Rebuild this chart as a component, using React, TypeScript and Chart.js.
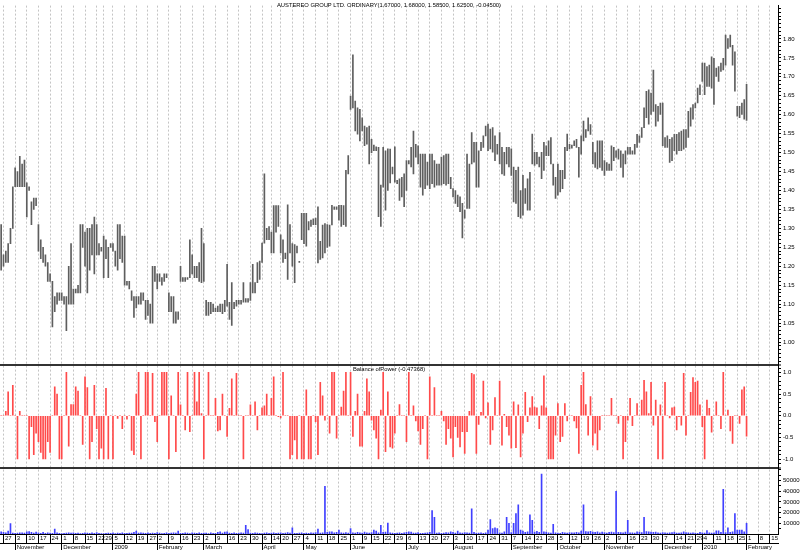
import React, { useEffect, useRef } from 'react';
import { Chart, registerables } from 'chart.js';

Chart.register(...registerables);

// ---- categories (trading days) ----
const START_DATE = '2008-10-24';
const HOLIDAYS = [
  '2008-12-25', '2008-12-26', '2009-01-01', '2009-01-26', '2009-04-10', '2009-04-13',
  '2009-06-08', '2009-12-25', '2009-12-28', '2010-01-01', '2010-01-26',
];
const SLOT_COUNT = 334;
const MONTH_NAMES = ['January', 'February', 'March', 'April', 'May', 'June', 'July', 'August', 'September', 'October', 'November', 'December'];

// ---- series values ----
const highs = [
  1.31, 1.23, 1.24, 1.26, 1.30, 1.41, 1.46, 1.45, 1.49, 1.47,
  1.48, 1.42, 1.41, 1.37, 1.38, 1.38, 1.31, 1.27, 1.25, 1.23,
  1.21, 1.18, 1.16, 1.12, 1.13, 1.13, 1.13, 1.12, 1.12, 1.20,
  1.26, 1.14, 1.14, 1.15, 1.31, 1.31, 1.29, 1.30, 1.30, 1.31,
  1.33, 1.31, 1.26, 1.25, 1.28, 1.27, 1.25, 1.26, 1.26, 1.24,
  1.31, 1.31, 1.28, 1.28, 1.16, 1.16, 1.135, 1.12, 1.12, 1.12,
  1.13, 1.13, 1.11, 1.11, 1.10, 1.20, 1.20, 1.18, 1.18, 1.17,
  1.18, 1.18, 1.13, 1.12, 1.12, 1.08, 1.08, 1.20, 1.17, 1.17,
  1.17, 1.27, 1.23, 1.20, 1.20, 1.21, 1.30, 1.26, 1.11, 1.105,
  1.105, 1.10, 1.09, 1.095, 1.10, 1.10, 1.11, 1.205, 1.105, 1.157,
  1.105, 1.11, 1.11, 1.11, 1.157, 1.115, 1.115, 1.157, 1.205, 1.157,
  1.21, 1.214, 1.261, 1.444, 1.30, 1.305, 1.29, 1.36, 1.36, 1.36,
  1.283, 1.27, 1.235, 1.362, 1.31, 1.26, 1.257, 1.253, 1.213, 1.34,
  1.34, 1.34, 1.318, 1.322, 1.325, 1.327, 1.357, 1.266, 1.309, 1.313,
  1.31, 1.309, 1.361, 1.357, 1.357, 1.361, 1.361, 1.36, 1.453, 1.492,
  1.649, 1.758, 1.636, 1.618, 1.614, 1.592, 1.57, 1.566, 1.57, 1.535,
  1.52, 1.515, 1.514, 1.414, 1.514, 1.505, 1.51, 1.509, 1.462, 1.515,
  1.427, 1.431, 1.435, 1.444, 1.479, 1.479, 1.514, 1.557, 1.522, 1.518,
  1.496, 1.496, 1.496, 1.475, 1.496, 1.496, 1.479, 1.47, 1.47, 1.488,
  1.492, 1.496, 1.496, 1.435, 1.405, 1.40, 1.388, 1.383, 1.366, 1.348,
  1.496, 1.47, 1.553, 1.527, 1.527, 1.505, 1.527, 1.544, 1.57, 1.575,
  1.562, 1.566, 1.544, 1.522, 1.553, 1.514, 1.501, 1.514, 1.514, 1.51,
  1.462, 1.453, 1.462, 1.40, 1.44, 1.405, 1.431, 1.448, 1.549, 1.501,
  1.501, 1.488, 1.501, 1.527, 1.518, 1.531, 1.54, 1.47, 1.435, 1.47,
  1.453, 1.453, 1.514, 1.549, 1.522, 1.52, 1.531, 1.535, 1.514, 1.544,
  1.583, 1.561, 1.592, 1.574, 1.527, 1.50, 1.531, 1.531, 1.531, 1.479,
  1.474, 1.47, 1.518, 1.514, 1.505, 1.509, 1.505, 1.496, 1.505, 1.514,
  1.514, 1.505, 1.522, 1.548, 1.544, 1.566, 1.618, 1.662, 1.666, 1.657,
  1.718, 1.627, 1.622, 1.631, 1.631, 1.54, 1.544, 1.535, 1.54, 1.548,
  1.548, 1.553, 1.557, 1.561, 1.561, 1.609, 1.618, 1.627, 1.631, 1.67,
  1.679, 1.736, 1.736, 1.727, 1.731, 1.753, 1.749, 1.723, 1.727, 1.736,
  1.749, 1.81, 1.801, 1.81, 1.783, 1.766, 1.622, 1.622, 1.631, 1.64,
  1.68,
];

const lows = [
  1.19, 1.20, 1.21, 1.21, 1.26, 1.30, 1.41, 1.41, 1.41, 1.41,
  1.41, 1.33, 1.40, 1.31, 1.35, 1.36, 1.24, 1.22, 1.21, 1.20,
  1.16, 1.16, 1.04, 1.08, 1.10, 1.11, 1.11, 1.10, 1.03, 1.10,
  1.10, 1.10, 1.13, 1.13, 1.13, 1.25, 1.20, 1.13, 1.19, 1.23,
  1.18, 1.23, 1.23, 1.24, 1.17, 1.22, 1.17, 1.25, 1.24, 1.20,
  1.19, 1.22, 1.21, 1.15, 1.15, 1.14, 1.11, 1.065, 1.09, 1.10,
  1.10, 1.11, 1.06, 1.07, 1.05, 1.05, 1.16, 1.14, 1.16, 1.15,
  1.16, 1.17, 1.08, 1.08, 1.05, 1.05, 1.06, 1.16, 1.16, 1.16,
  1.165, 1.17, 1.18, 1.17, 1.17, 1.16, 1.157, 1.16, 1.07, 1.07,
  1.075, 1.08, 1.08, 1.08, 1.08, 1.075, 1.08, 1.095, 1.06, 1.044,
  1.088, 1.095, 1.10, 1.10, 1.105, 1.105, 1.105, 1.11, 1.13, 1.13,
  1.157, 1.165, 1.21, 1.261, 1.27, 1.27, 1.235, 1.235, 1.29, 1.305,
  1.235, 1.21, 1.22, 1.165, 1.235, 1.20, 1.157, 1.235, 1.21, 1.27,
  1.26, 1.253, 1.296, 1.305, 1.31, 1.31, 1.209, 1.218, 1.222, 1.235,
  1.25, 1.253, 1.309, 1.35, 1.35, 1.322, 1.305, 1.31, 1.305, 1.444,
  1.614, 1.618, 1.557, 1.549, 1.531, 1.557, 1.518, 1.522, 1.47, 1.50,
  1.505, 1.505, 1.331, 1.305, 1.409, 1.348, 1.40, 1.42, 1.444, 1.422,
  1.418, 1.374, 1.383, 1.357, 1.40, 1.47, 1.462, 1.444, 1.488, 1.47,
  1.409, 1.388, 1.405, 1.414, 1.405, 1.418, 1.409, 1.414, 1.414, 1.414,
  1.418, 1.414, 1.418, 1.405, 1.383, 1.366, 1.357, 1.344, 1.275, 1.327,
  1.353, 1.353, 1.47, 1.475, 1.409, 1.409, 1.505, 1.514, 1.544, 1.505,
  1.51, 1.501, 1.479, 1.496, 1.47, 1.444, 1.44, 1.47, 1.462, 1.44,
  1.37, 1.366, 1.331, 1.327, 1.335, 1.366, 1.348, 1.348, 1.47, 1.466,
  1.47, 1.462, 1.431, 1.453, 1.492, 1.492, 1.47, 1.414, 1.379, 1.388,
  1.396, 1.405, 1.431, 1.505, 1.51, 1.512, 1.518, 1.514, 1.435, 1.496,
  1.531, 1.54, 1.557, 1.548, 1.47, 1.461, 1.457, 1.461, 1.453, 1.44,
  1.453, 1.453, 1.453, 1.479, 1.487, 1.483, 1.461, 1.435, 1.47, 1.496,
  1.496, 1.496, 1.496, 1.514, 1.527, 1.54, 1.566, 1.592, 1.575, 1.601,
  1.609, 1.57, 1.583, 1.601, 1.518, 1.514, 1.514, 1.474, 1.479, 1.505,
  1.496, 1.505, 1.505, 1.509, 1.514, 1.54, 1.57, 1.588, 1.618, 1.631,
  1.653, 1.688, 1.653, 1.675, 1.675, 1.67, 1.627, 1.701, 1.688, 1.714,
  1.718, 1.731, 1.775, 1.779, 1.731, 1.662, 1.596, 1.592, 1.601, 1.588,
  1.585,
];

const balanceOfPower = [
  0, 0, 0.1, 0.55, 0, 0.7, 0, -1, 0.1, 0,
  0, 0, -1, -0.25, -0.9, -0.4, -0.6, -0.85, -1, -1,
  -0.6, -0.85, 0, 0.67, 0.5, -1, -1, 0, 1, -0.7,
  0.26, 0.26, 0.67, 0.57, 0, -0.66, 0.9, 0.65, -1, -0.6,
  0.7, -0.3, -1, -0.75, -1, 0.63, -1, 0, -1, 0,
  -0.06, 0, -0.3, 0, -0.08, 0, -0.8, -0.9, 0.5, 1,
  -1, 0, 1, 1, 0, 0.98, -0.14, -0.6, 0, 1,
  1, 1, -1, 0.46, 0, -0.83, 1, 0.25, 0, -0.33,
  1, -0.37, 0, 1, 0.32, 1, 0.05, -1, 0, 1,
  0, 0, 0.4, -0.35, -0.33, 0.5, 0, -0.48, 0.17, 0.85,
  0, 0.98, 0, 0, -1, 0, 0, 0.25, 0, 0.32,
  -0.33, 0, 0.18, 0.23, 0.5, 0, 0.4, 0.9, 0, -0.02,
  -0.05, 1, 0, 0, -1, -0.9, -0.56, -1, 0, -1,
  -1, 0.6, -1, -1, 0, -0.14, -0.9, 0.77, 0.46, -0.1,
  0, -0.4, 1, 1, -0.52, 0, 0.2, 0.57, 1, 0,
  1, -0.48, 0.1, 0.5, -0.7, -0.7, 0.1, 0.85, 0.55, -0.1,
  -0.33, -0.52, -1, 0.13, 1, -0.83, 0.55, -0.72, -0.75, -0.4,
  0, 0.26, 0, 0, -0.6, 1, 0, 0.23, -0.12, -0.35,
  -0.66, -0.3, 0, -1, 0.9, 0, 0.65, 0, 0, 0.1,
  -0.12, -0.66, -0.3, -0.52, -0.95, -0.25, -0.5, -0.72, -0.37, -0.87,
  -0.37, 0.1, 0.98, 0.95, -0.87, -0.2, 0.08, 0.8, -0.05, 0.3,
  -0.66, -0.33, 0.42, 0, 0.8, -0.68, 0.03, -0.25, -0.45, -0.75,
  0.32, -0.74, 0.25, -0.95, -0.4, 0.54, -0.14, 0.18, 0.44, 0.2,
  0.18, -0.3, 0.23, 0.92, 0.18, -1, -1, -1, -0.45, 0.28,
  -0.6, -0.48, 0.28, -0.12, 0, 0, -0.12, -0.28, -0.87, 0.7,
  1, 0.26, -0.45, 0.44, -0.68, -0.4, -0.79, -0.33, 0, 0,
  0, 0, 0.4, 0, 0, -0.18, 0, -1, -0.6, -0.1,
  0.4, -0.23, 0, 0.28, 0, 0.36, 0.82, 0.55, 0.05, 0.77,
  -0.22, 0.36, -1, 0.25, -1, 0.77, 0, -0.05, 0.18, 0.2,
  -0.33, -0.02, -0.22, 0.98, -0.45, 0, 0.54, 0.88, 0.77, 0.8,
  0.25, -0.25, -1, 0.36, 0.17, -0.38, 0, 0.32, 0, -0.3,
  1, 0, 0.13, -0.35, -0.64, 0, 0, -0.18, 0.6, 0.67,
  -0.47368,
];

const volume = [
  2100, 1500, 1200, 2700, 9700, 800, 600, 900, 1000, 1100,
  800, 2000, 2200, 1500, 900, 1800, 1200, 700, 1500, 600,
  1100, 900, 700, 4500, 1000, 600, 500, 700, 900, 1200,
  800, 1000, 600, 900, 500, 700, 1100, 800, 600, 1000,
  700, 1300, 600, 500, 400, 600, 900, 700, 1000, 500,
  800, 600, 1200, 700, 600, 900, 800, 1500, 2700, 900,
  1200, 800, 600, 1100, 700, 900, 600, 1300, 800, 500,
  700, 1000, 600, 800, 1200, 900, 2700, 700, 600, 1100,
  800, 500, 1000, 900, 700, 1200, 600, 800, 900, 500,
  1100, 700, 600, 1500, 2100, 900, 1700, 2100, 800, 600,
  1000, 700, 900, 1200, 800, 8200, 4200, 900, 600, 1100,
  800, 700, 500, 900, 1200, 600, 800, 1000, 700, 900,
  1100, 600, 800, 1300, 900, 5800, 700, 600, 800, 1000,
  700, 900, 600, 1100, 800, 1300, 4500, 900, 1200, 44500,
  1500, 2000, 2100, 1000, 1500, 3600, 1000, 800, 1300, 900,
  5100, 1200, 900, 1500, 1000, 800, 1800, 1100, 900, 1300,
  3600, 2700, 1200, 8200, 1500, 1800, 10300, 1200, 900, 700,
  800, 1000, 700, 1200, 1600, 2100, 1900, 900, 800, 1300,
  700, 600, 900, 1100, 1500, 21800, 15700, 800, 1200, 700,
  900, 1300, 1000, 2000, 1500, 900, 2700, 1100, 800, 1400,
  1000, 900, 23600, 1500, 900, 800, 1200, 700, 1000, 3600,
  13600, 5000, 5800, 5000, 1200, 900, 2100, 15500, 10000, 1300,
  10000, 19000, 27300, 3600, 2700, 1500, 2100, 18000, 12700, 1800,
  2400, 1500, 56000, 2100, 1800, 1200, 900, 9000, 1100, 800,
  700, 1500, 1000, 900, 1300, 1200, 1100, 1600, 1000, 2700,
  27300, 2200, 2100, 2400, 1700, 1500, 2000, 1200, 1800, 1300,
  900, 1600, 1800, 1300, 40000, 1600, 1400, 1200, 1700, 12700,
  1000, 1200, 900, 2100, 1800, 1300, 15700, 2200, 2000, 1700,
  1500, 1800, 1100, 900, 1400, 1200, 800, 1000, 1300, 1700,
  900, 800, 1100, 2000, 1300, 1000, 900, 1200, 800, 700,
  1500, 1000, 800, 3300, 1200, 900, 1100, 3000, 3000, 1500,
  41800, 1300, 5800, 1500, 2000, 19000, 3600, 3600, 3600, 2100,
  10000,
];

// ---- tick labels ----
const priceTickLabels = [1.0, 1.05, 1.1, 1.15, 1.2, 1.25, 1.3, 1.35, 1.4, 1.45, 1.5, 1.55, 1.6, 1.65, 1.7, 1.75, 1.8];
const bopTickLabels = [-1, -0.5, 0, 0.5, 1];
const volumeTickLabels = [10000, 20000, 30000, 40000, 50000];

const TITLE = 'AUSTEREO GROUP LTD. ORDINARY(1.67000, 1.68000, 1.58500, 1.62500, -0.04500)';
const BOP_TITLE = 'Balance ofPower (-0.47368)';

// ---- axis ranges ----
const PRICE_MIN = 0.94;
const PRICE_MAX = 1.888;
const BOP_MIN = -1.2;
const BOP_MAX = 1.176;
const VOL_MAX = 62000;

const FONT = '"Liberation Sans", Arial, sans-serif';

function buildDates(): Date[] {
  const out: Date[] = [];
  const d = new Date(START_DATE + 'T00:00:00Z');
  while (out.length < SLOT_COUNT) {
    const iso = d.toISOString().slice(0, 10);
    const wd = d.getUTCDay();
    if (wd !== 0 && wd !== 6 && !HOLIDAYS.includes(iso)) out.push(new Date(d.getTime()));
    d.setUTCDate(d.getUTCDate() + 1);
  }
  return out;
}

const near = (arr: number[], v: number) => arr.some((t) => Math.abs(t - v) < 1e-7);

export default function App() {
  const ref = useRef<HTMLCanvasElement | null>(null);

  useEffect(() => {
    if (!ref.current) return;
    const dates = buildDates();
    const labels = dates.map((d) => d.toISOString().slice(0, 10));
    const weekNo = dates.map((d) => Math.floor((d.getTime() / 86400000 + 3) / 7));
    const weekStart = dates.map((_, i) => i > 0 && weekNo[i] !== weekNo[i - 1]);
    const monthStart: boolean[] = [];
    let prevMonth = dates[0].getUTCMonth();
    dates.forEach((d, i) => {
      if (weekStart[i] && d.getUTCMonth() !== prevMonth) {
        monthStart.push(true);
        prevMonth = d.getUTCMonth();
      } else monthStart.push(false);
    });
    const dayLabels = dates.map((d, i) => (weekStart[i] ? String(d.getUTCDate()) : ''));
    const monthLabels = dates.map((d, i) =>
      monthStart[i] ? (d.getUTCMonth() === 0 ? String(d.getUTCFullYear()) : MONTH_NAMES[d.getUTCMonth()]) : ''
    );

    const titlePlugin = {
      id: 'panelTitles',
      afterDraw(chart: any) {
        const { ctx, chartArea } = chart;
        const cx = (chartArea.left + chartArea.right) / 2;
        ctx.save();
        ctx.font = `5.8px ${FONT}`;
        ctx.fillStyle = '#000';
        ctx.textAlign = 'center';
        ctx.textBaseline = 'middle';
        ctx.fillText(TITLE, cx, 5);
        ctx.fillText(BOP_TITLE, cx, chart.scales.y2.top + 4.5);
        ctx.restore();
      },
    };

    const tickFont = { size: 6, family: FONT };

    const chart = new Chart(ref.current, {
      type: 'bar',
      data: {
        labels,
        datasets: [
          {
            label: 'Price',
            data: lows.map((l, i) => [l, highs[i]]) as any,
            yAxisID: 'y',
            xAxisID: 'x',
            backgroundColor: '#5e5e5e',
            barThickness: 1,
            grouped: false,
          },
          {
            label: 'Balance of Power',
            data: balanceOfPower,
            yAxisID: 'y2',
            xAxisID: 'x',
            backgroundColor: '#ff4a4a',
            barThickness: 1,
            grouped: false,
          },
          {
            label: 'Volume',
            data: volume,
            yAxisID: 'y3',
            xAxisID: 'x',
            backgroundColor: '#4040ff',
            barThickness: 1,
            grouped: false,
          },
        ],
      },
      options: {
        responsive: false,
        animation: false,
        devicePixelRatio: 1,
        layout: { padding: 0, autoPadding: false },
        plugins: { legend: { display: false }, tooltip: { enabled: false }, title: { display: false } },
        scales: {
          x: {
            type: 'category',
            position: 'bottom',
            offset: true,
            weight: 0,
            grid: {
              offset: false,
              drawOnChartArea: true,
              color: (c: any) => (weekStart[c.index] ? '#c4c4c4' : 'transparent'),
              tickColor: (c: any) => (weekStart[c.index] ? '#000' : 'transparent'),
              tickLength: 9,
              tickBorderDash: [],
              lineWidth: 1,
            },
            border: { display: true, color: '#000', width: 1, dash: [2, 2] },
            ticks: {
              autoSkip: false,
              maxRotation: 0,
              minRotation: 0,
              align: 'start',
              labelOffset: 1.5,
              padding: -8,
              font: tickFont,
              color: '#000',
              callback: (_v: any, i: number) => dayLabels[i],
            },
            afterFit: (s: any) => {
              s.height = 9;
            },
          },
          x2: {
            type: 'category',
            position: 'bottom',
            offset: true,
            weight: 1,
            grid: {
              offset: false,
              drawOnChartArea: false,
              color: 'transparent',
              tickColor: (c: any) => (monthStart[c.index] ? '#000' : 'transparent'),
              tickLength: 7,
              tickBorderDash: [],
            },
            border: { display: true, color: '#000', width: 1 },
            ticks: {
              autoSkip: false,
              maxRotation: 0,
              minRotation: 0,
              align: 'start',
              labelOffset: 1.5,
              padding: -6,
              font: tickFont,
              color: '#000',
              callback: (_v: any, i: number) => monthLabels[i],
            },
            afterFit: (s: any) => {
              s.height = 7;
            },
          },
          y: {
            type: 'linear',
            position: 'right',
            stack: 'panels',
            stackWeight: 363,
            min: PRICE_MIN,
            max: PRICE_MAX,
            grid: { drawOnChartArea: false, tickLength: 3, tickColor: '#000' },
            border: { display: true, color: '#000' },
            afterBuildTicks: (s: any) => {
              const t = [];
              for (let k = 95; k <= 188; k++) t.push({ value: k / 100 });
              s.ticks = t;
            },
            ticks: {
              autoSkip: false,
              padding: 2,
              font: tickFont,
              color: '#000',
              callback: (v: any) => (near(priceTickLabels, v) ? Number(v).toFixed(2) : ''),
            },
            afterFit: (s: any) => {
              s.width = 22;
            },
          },
          y2: {
            type: 'linear',
            position: 'right',
            stack: 'panels',
            stackWeight: 104,
            min: BOP_MIN,
            max: BOP_MAX,
            grid: {
              drawOnChartArea: true,
              color: (c: any) => (c.tick && Math.abs(c.tick.value - BOP_MAX) < 1e-7 ? '#333' : 'transparent'),
              lineWidth: (c: any) => (c.tick && Math.abs(c.tick.value - BOP_MAX) < 1e-7 ? 2 : 1),
              tickLength: 3,
              tickColor: '#000',
              tickWidth: 1,
            },
            border: { display: true, color: '#000' },
            afterBuildTicks: (s: any) => {
              const t = [];
              for (let k = -11; k <= 11; k++) t.push({ value: k / 10 });
              t.push({ value: BOP_MAX });
              s.ticks = t;
            },
            ticks: {
              autoSkip: false,
              padding: 2,
              font: tickFont,
              color: '#000',
              callback: (v: any) => (near(bopTickLabels, v) ? Number(v).toFixed(1) : ''),
            },
            afterFit: (s: any) => {
              s.width = 22;
            },
          },
          y3: {
            type: 'linear',
            position: 'right',
            stack: 'panels',
            stackWeight: 67,
            min: 0,
            max: VOL_MAX,
            grid: {
              drawOnChartArea: true,
              color: (c: any) => (c.tick && c.tick.value === VOL_MAX ? '#333' : 'transparent'),
              lineWidth: (c: any) => (c.tick && c.tick.value === VOL_MAX ? 2 : 1),
              tickLength: 3,
              tickColor: '#000',
              tickWidth: 1,
            },
            border: { display: true, color: '#000' },
            afterBuildTicks: (s: any) => {
              const t = [];
              for (let k = 1; k <= 12; k++) t.push({ value: k * 5000 });
              t.push({ value: VOL_MAX });
              s.ticks = t;
            },
            ticks: {
              autoSkip: false,
              padding: 2,
              font: tickFont,
              color: '#000',
              callback: (v: any) => (near(volumeTickLabels, v) ? String(v) : ''),
            },
            afterFit: (s: any) => {
              s.width = 22;
            },
          },
        },
      } as any,
      plugins: [titlePlugin],
    });

    return () => chart.destroy();
  }, []);

  return (
    <div style={{ position: 'fixed', left: 0, top: 0, width: 800, height: 550, background: '#fff' }}>
      <canvas ref={ref} width={800} height={550} style={{ display: 'block', width: 800, height: 550 }} />
    </div>
  );
}
